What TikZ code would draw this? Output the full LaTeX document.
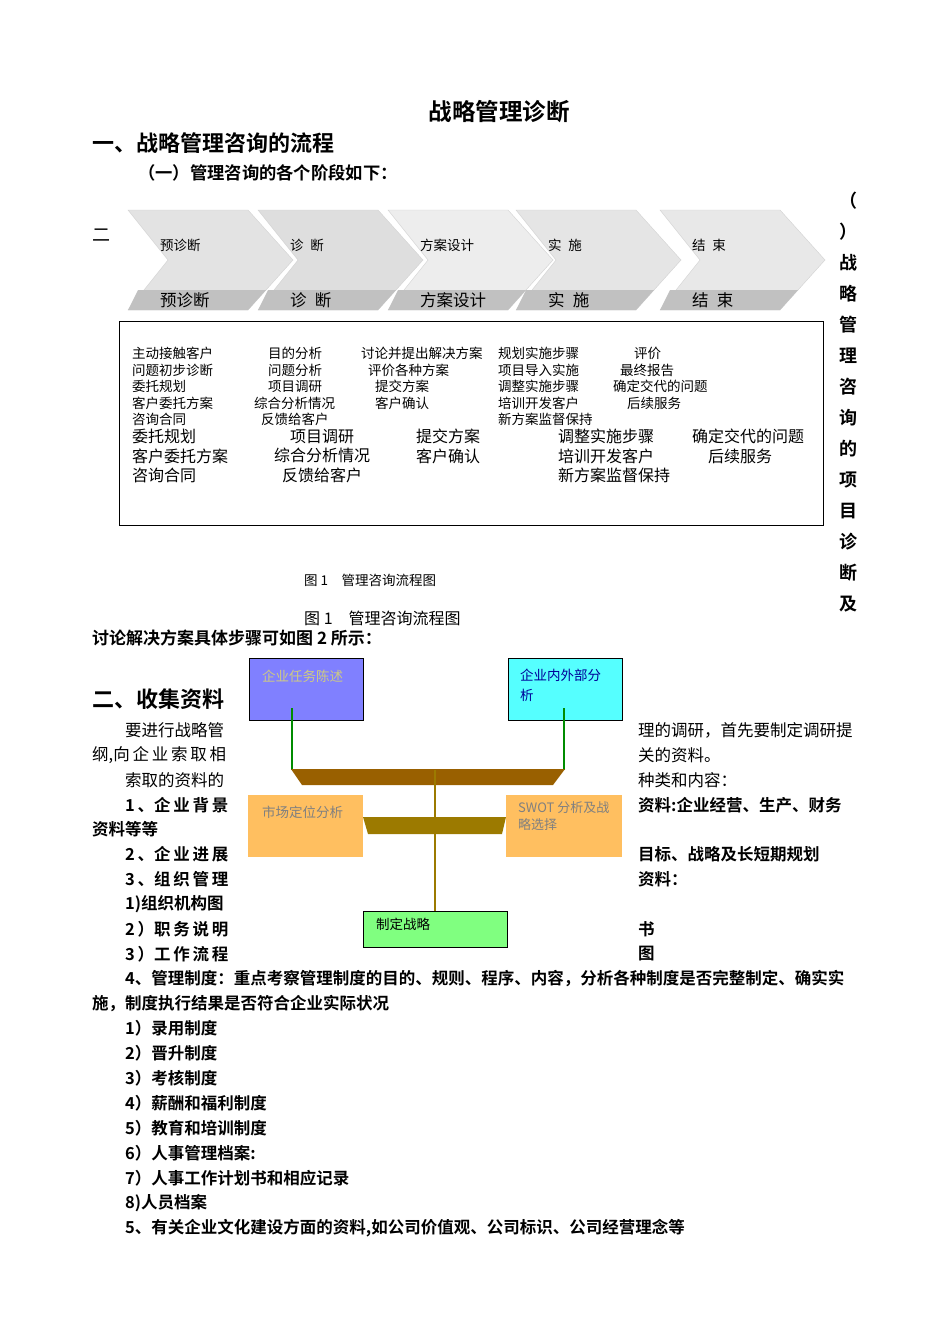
\documentclass[tikz,border=0pt]{standalone}
\usepackage{fontspec}
\setmainfont{Liberation Serif}
\newfontfamily\cjk{Noto Sans CJK SC}
\newfontfamily\cjkb{Noto Sans CJK SC Bold}
\definecolor{bar1}{HTML}{996000}
\definecolor{bar2}{HTML}{9C7A00}
\definecolor{og}{HTML}{FFBF60}
\begin{document}
\begin{tikzpicture}[x=1pt,y=-1pt,
  t/.style={anchor=west,inner sep=0pt,font=\cjk\fontsize{16.5}{18}\selectfont},
  tb/.style={anchor=west,inner sep=0pt,font=\cjkb\fontsize{16.5}{18}\selectfont},
  h/.style={anchor=west,inner sep=0pt,font=\cjkb\fontsize{22}{24}\selectfont},
  s/.style={anchor=north west,inner sep=0pt,align=left,font=\cjk\fontsize{13.5}{16.5}\selectfont},
  m/.style={anchor=north west,inner sep=0pt,align=left,font=\cjk\fontsize{16}{19.5}\selectfont},
  box/.style={draw=black,line width=0.8pt,inner sep=0pt},
  gl/.style={draw=green!55!black,line width=1.5pt},
  bl/.style={draw=bar2,line width=2pt}]
\useasboundingbox (0,0) rectangle (950,1344);
\fill[white] (0,0) rectangle (950,1344);
\node[anchor=center,inner sep=0pt,font=\cjkb\fontsize{23.5}{26}\selectfont] (title) at (499,112) {战略管理诊断};
\node[h] (h1) at (92,143) {一、战略管理咨询的流程};
\node[tb,font=\cjkb\fontsize{17.3}{19}\selectfont] (h1a) at (138,173) {（一）管理咨询的各个阶段如下：};
\node[t,font=\cjk\fontsize{18}{18}\selectfont] (er) at (92,235) {二};
% chevrons
\foreach \x/\lab/\g [count=\i] in {128/预诊断/22,258/诊\enspace 断/26,388/方案设计/14,516/实\enspace 施/20,660/结\enspace 束/18}{
  \fill[gray!\g,draw=gray!35] (\x,210) -- (\x+120,210) -- (\x+165,260) -- (\x+120,310) -- (\x,310) -- (\x+40,260) -- cycle;
  \fill[gray!\g!black!10!gray!45] (\x+10,290) -- (\x+138,290) -- (\x+120,310) -- (\x,310) -- cycle;
  \node[anchor=west,inner sep=0pt,font=\cjk\fontsize{13.5}{14}\selectfont] (c\i) at (\x+32,245) {\lab};
  \node[anchor=west,inner sep=0pt,font=\cjk\fontsize{16.5}{17}\selectfont] (d\i) at (\x+32,300) {\lab};
}
% vertical text right
\node[anchor=north,inner sep=0pt,align=center,font=\cjkb\fontsize{18}{31}\selectfont] (vt) at (848,192)
 {（\\）\\战\\略\\管\\理\\咨\\询\\的\\项\\目\\诊\\断\\及};
% table box
\draw[line width=0.8pt] (119,321) rectangle (823,525);
\node[s] (a1) at (132,347) {主动接触客户\\问题初步诊断\\委托规划\\客户委托方案\\咨询合同};
\node[s] (a2) at (254,347) {\hspace*{14pt}目的分析\\\hspace*{14pt}问题分析\\\hspace*{14pt}项目调研\\综合分析情况\\\hspace*{7pt}反馈给客户};
\node[s] (a3) at (361,347) {讨论并提出解决方案\\\hspace*{7pt}评价各种方案\\\hspace*{14pt}提交方案\\\hspace*{14pt}客户确认};
\node[s] (a4) at (498,347) {规划实施步骤\\项目导入实施\\调整实施步骤\\培训开发客户\\新方案监督保持};
\node[s] (a5) at (613,347) {\hspace*{21pt}评价\\\hspace*{7pt}最终报告\\确定交代的问题\\\hspace*{14pt}后续服务};
\node[m] (b1) at (132,429) {委托规划\\客户委托方案\\咨询合同};
\node[m] (b2) at (274,429) {\hspace*{16pt}项目调研\\综合分析情况\\\hspace*{8pt}反馈给客户};
\node[m] (b3) at (416,429) {提交方案\\客户确认};
\node[m] (b4) at (558,429) {调整实施步骤\\培训开发客户\\新方案监督保持};
\node[m] (b5) at (692,429) {确定交代的问题\\\hspace*{16pt}后续服务};
\node[anchor=west,inner sep=0pt,font=\cjk\fontsize{13.5}{14}\selectfont] (f1) at (304,580) {图 1\quad 管理咨询流程图};
\node[anchor=west,inner sep=0pt,font=\cjk\fontsize{16}{17}\selectfont] (f2) at (304,618) {图 1\quad 管理咨询流程图};
\node[tb,font=\cjkb\fontsize{17}{18}\selectfont] (p1) at (92,638) {讨论解决方案具体步骤可如图 2 所示：};
\node[h] (h2) at (92,699) {二、收集资料};
% diagram 2
\node[box,fill={rgb,255:red,128;green,128;blue,255},minimum width=114pt,minimum height=62pt] (n1) at (306,689) {};
\node[s,text=yellow!45!gray!80,font=\cjk\fontsize{13.5}{15}\selectfont] at (262,670) {企业任务陈述};
\node[box,fill={rgb,255:red,85;green,255;blue,255},minimum width=114pt,minimum height=62pt] (n2) at (565,689) {};
\node[s,text=blue!60!black,font=\cjk\fontsize{13.5}{20}\selectfont] at (520,669) {企业内外部分\\析};
\fill[og] (248,795) rectangle (363,857);
\node[s,text=gray,font=\cjk\fontsize{13.5}{15}\selectfont] (n3) at (262,806) {市场定位分析};
\fill[og] (506,795) rectangle (622,857);
\node[s,text=gray,font=\cjk\fontsize{13}{17}\selectfont] (n4) at (518,801) {SWOT 分析及战\\略选择};
\node[box,fill={rgb,255:red,128;green,255;blue,128},minimum width=144pt,minimum height=36pt] (n5) at (435,929) {};
\node[s,font=\cjk\fontsize{13.5}{15}\selectfont] at (376,918) {制定战略};
\coordinate (l1) at (292,708); \coordinate (l1b) at (292,770);
\coordinate (l2) at (564,708); \coordinate (l2b) at (564,770);
\draw[gl] (l1) -- (l1b); \draw[gl] (l2) -- (l2b);
\fill[bar1] (291,769) -- (565,769) -- (553,785) -- (302,785) -- cycle;
\fill[bar2] (363,817) -- (506,817) -- (502,834) -- (368,834) -- cycle;
\coordinate (v1) at (435,770);
\draw[bl] (v1) -- (n5.north);
% side text
\node[t] (r1) at (125,730) {要进行战略管};
\node[t] (r2) at (92,755) {纲,向\,企\,业\,索\,取\,相};
\node[t] (r3) at (125,780) {索取的资料的};
\node[tb] (r4) at (125,805) {1\,、企\,业\,背\,景};
\node[tb] (r5) at (92,829) {资料等等};
\node[tb] (r6) at (125,854) {2\,、企\,业\,进\,展};
\node[tb] (r7) at (125,879) {3\,、组\,织\,管\,理};
\node[tb] (r8) at (125,904) {1)组织机构图};
\node[tb] (r9) at (125,929) {2\,）职\,务\,说\,明};
\node[tb] (r10) at (125,954) {3\,）工\,作\,流\,程};
\node[t] (q1) at (638,730) {理的调研，首先要制定调研提};
\node[t] (q2) at (638,755) {关的资料。};
\node[t] (q3) at (638,780) {种类和内容：};
\node[tb] (q4) at (638,805) {资料:企业经营、生产、财务};
\node[tb] (q6) at (638,854) {目标、战略及长短期规划};
\node[tb] (q7) at (638,879) {资料：};
\node[tb] (q9) at (638,929) {书};
\node[tb] (q10) at (638,954) {图};
\node[tb] (w1) at (125,979) {4、管理制度：重点考察管理制度的目的、规则、程序、内容，分析各种制度是否完整制定、确实实};
\node[tb] (w2) at (92,1004) {施，制度执行结果是否符合企业实际状况};
\foreach \s [count=\i] in {1）录用制度,2）晋升制度,3）考核制度,4）薪酬和福利制度,5）教育和培训制度,6）人事管理档案:,7）人事工作计划书和相应记录,8)人员档案,{5、有关企业文化建设方面的资料,如公司价值观、公司标识、公司经营理念等}}
  \node[tb] (z\i) at (125,1003+25*\i) {\s};
\end{tikzpicture}
\end{document}
